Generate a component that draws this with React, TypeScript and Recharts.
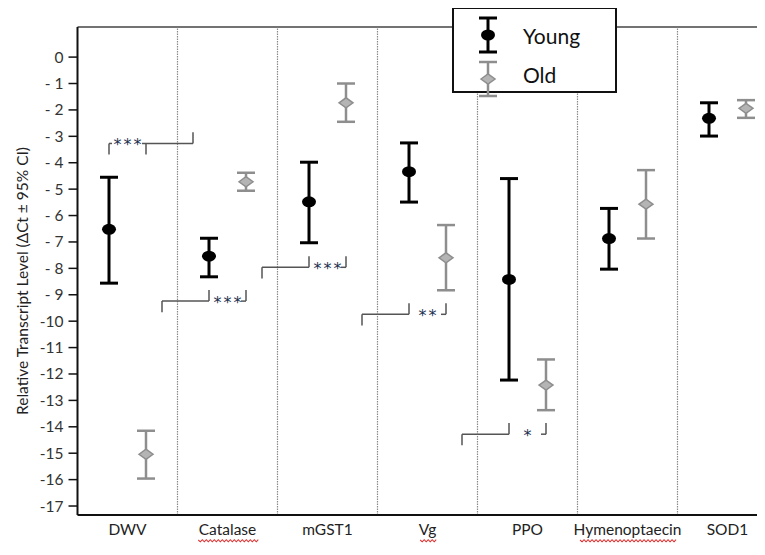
import React from "react";
import {
  ScatterChart,
  Scatter,
  XAxis,
  YAxis,
  ErrorBar,
  ReferenceLine,
  ReferenceDot,
  Legend,
} from "recharts";

const genes = ["DWV", "Catalase", "mGST1", "Vg", "PPO", "Hymenoptaecin", "SOD1"];

// ΔCt means and 95% CI bounds
const youngMean = [-6.52, -7.54, -5.48, -4.34, -8.42, -6.87, -2.32];
const youngHigh = [-4.55, -6.86, -3.98, -3.25, -4.6, -5.73, -1.73];
const youngLow = [-8.56, -8.32, -7.03, -5.49, -12.23, -8.03, -2.99];

const oldMean = [-15.04, -4.72, -1.73, -7.6, -12.42, -5.57, -1.94];
const oldHigh = [-14.15, -4.38, -1.0, -6.36, -11.45, -4.28, -1.63];
const oldLow = [-15.96, -5.06, -2.45, -8.83, -13.37, -6.87, -2.3];

const yTicks = [0, -1, -2, -3, -4, -5, -6, -7, -8, -9, -10, -11, -12, -13, -14, -15, -16, -17];

// significance brackets: gene index, level of the bracket line, stars
const sigGene = [0, 1, 2, 3, 4];
const sigLevel = [-3.27, -9.24, -7.96, -9.74, -14.28];
const sigStars = ["***", "***", "***", "**", "*"];

const underlined = ["Catalase", "Vg", "Hymenoptaecin"];

const Y_MIN = -17.34;
const Y_MAX = 1.14;
const X_MAX = 6.875;
const YOUNG_OFF = 0.315;
const OLD_OFF = 0.685;
const ARM = 0.47;
const TICK = 0.42;
const FONT = "Lato, 'Open Sans', sans-serif";

const youngData = genes.map((g, i) => ({
  x: i + YOUNG_OFF,
  y: youngMean[i],
  err: [youngMean[i] - youngLow[i], youngHigh[i] - youngMean[i]],
}));
const oldData = genes.map((g, i) => ({
  x: i + OLD_OFF,
  y: oldMean[i],
  err: [oldMean[i] - oldLow[i], oldHigh[i] - oldMean[i]],
}));

const fmtY = (v: number) => (v === 0 ? "0" : v > -10 ? "- " + -v : String(v));

const Dot = (p: any) => <ellipse cx={p.cx} cy={p.cy} rx={7} ry={5.5} fill="#000" />;
const Diamond = (p: any) => (
  <path
    d={`M${p.cx - 7},${p.cy} L${p.cx},${p.cy - 5} L${p.cx + 7},${p.cy} L${p.cx},${p.cy + 5} Z`}
    fill="#b4b4b4"
    stroke="#8e8e8e"
    strokeWidth={1.5}
  />
);

function GeneTick(props: any) {
  const { x, y, payload } = props;
  const name = genes[Math.floor(payload.value)];
  const w = name.length * 7.3;
  let squiggle = null;
  if (underlined.includes(name)) {
    let d = `M${x - w / 2},${y + 23}`;
    for (let k = 0, s = x - w / 2; s < x + w / 2; k++, s += 2) {
      d += ` L${s + 2},${y + 23 + (k % 2 === 0 ? 1.8 : -0.3)}`;
    }
    squiggle = <path d={d} fill="none" stroke="#e03030" strokeWidth={1.1} />;
  }
  return (
    <g>
      <text x={x} y={y + 18} textAnchor="middle" fontSize={15.5} fill="#222" fontFamily={FONT}>
        {name}
      </text>
      {squiggle}
    </g>
  );
}

function YTitle(props: any) {
  const vb = props.viewBox;
  const cy = vb.y + vb.height / 2 + 10;
  return (
    <text
      x={14}
      y={cy}
      transform={`rotate(-90, 14, ${cy})`}
      textAnchor="middle"
      dominantBaseline="central"
      fontSize={15.5}
      fill="#222"
      fontFamily={FONT}
    >
      Relative Transcript Level (ΔCt ± 95% CI)
    </text>
  );
}

function LegendBox() {
  return (
    <svg width={166} height={100} style={{ overflow: "visible", display: "block" }}>
      <rect x={1} y={1} width={163} height={84} fill="#fff" stroke="#111" strokeWidth={2} />
      <g stroke="#000" strokeWidth={3}>
        <line x1={36} y1={11} x2={36} y2={45} />
        <line x1={27} y1={11} x2={45} y2={11} />
        <line x1={27} y1={45} x2={45} y2={45} />
      </g>
      <ellipse cx={36} cy={28} rx={7} ry={5.5} fill="#000" />
      <g stroke="#8e8e8e" strokeWidth={2.5}>
        <line x1={36} y1={55} x2={36} y2={89} />
        <line x1={27} y1={55} x2={45} y2={55} />
        <line x1={27} y1={89} x2={45} y2={89} />
      </g>
      <path d="M29,72 L36,67 L43,72 L36,77 Z" fill="#b4b4b4" stroke="#8e8e8e" strokeWidth={1.5} />
      <text x={71} y={28} dominantBaseline="central" fontSize={21} fill="#111" fontFamily={FONT}>
        Young
      </text>
      <text x={71} y={67} dominantBaseline="central" fontSize={21} fill="#111" fontFamily={FONT}>
        Old
      </text>
    </svg>
  );
}

function bracketSegments(k: number) {
  const g = sigGene[k];
  const y = sigLevel[k];
  const yx = g + YOUNG_OFF;
  const ox = g + OLD_OFF;
  if (g === 0) {
    // drawn above the points, opening to the right
    const right = ox + ARM;
    return [
      [[yx, y], [yx, y - TICK]],
      [[yx, y], [yx + 0.03, y]],
      [[ox - 0.04, y], [right, y]],
      [[ox, y], [ox, y - TICK]],
      [[right, y], [right, y + TICK]],
    ];
  }
  const left = yx - ARM;
  return [
    [[left, y], [left, y - TICK]],
    [[left, y], [yx, y]],
    [[yx, y], [yx, y + TICK]],
    [[ox - 0.05, y], [ox, y]],
    [[ox, y], [ox, y + TICK]],
  ];
}

const Stars = (text: string) => (p: any) => (
  <text
    x={p.cx + 1}
    y={p.cy + 7}
    textAnchor="middle"
    fontSize={16}
    letterSpacing={2}
    fill="#1c3350"
    fontFamily="'DejaVu Sans', sans-serif"
  >
    {text}
  </text>
);

export default function App() {
  return (
    <ScatterChart
      width={757}
      height={540}
      margin={{ top: 19, right: 0, bottom: 0, left: 0 }}
      style={{ fontFamily: FONT }}
    >
      <XAxis
        type="number"
        dataKey="x"
        domain={[0, X_MAX]}
        ticks={genes.map((g, i) => i + 0.5)}
        allowDataOverflow
        tickLine={false}
        tickSize={0}
        height={33}
        axisLine={{ stroke: "#111", strokeWidth: 2 }}
        tick={<GeneTick />}
        interval={0}
      />
      <YAxis
        type="number"
        dataKey="y"
        domain={[Y_MIN, Y_MAX]}
        ticks={yTicks}
        allowDataOverflow
        interval={0}
        width={69.5}
        tickSize={9}
        tickMargin={5}
        tickFormatter={fmtY}
        tick={{ fontSize: 15.5, fill: "#333", fontFamily: FONT }}
        tickLine={{ stroke: "#111", strokeWidth: 1.5 }}
        axisLine={{ stroke: "#111", strokeWidth: 2 }}
        label={<YTitle />}
      />
      <ReferenceLine y={Y_MAX} stroke="#444" strokeWidth={1.5} ifOverflow="visible" />
      {[1, 2, 3, 4, 5, 6].map((v) => (
        <ReferenceLine key={v} x={v} stroke="#8a8a8a" strokeWidth={1.2} strokeDasharray="1.5 1" />
      ))}
      {sigGene.map((g, k) =>
        bracketSegments(k).map((s, j) => (
          <ReferenceLine
            key={`b${k}-${j}`}
            segment={[
              { x: s[0][0], y: s[0][1] },
              { x: s[1][0], y: s[1][1] },
            ]}
            stroke="#555"
            strokeWidth={1.5}
            ifOverflow="visible"
          />
        ))
      )}
      {sigGene.map((g, k) => (
        <ReferenceDot
          key={`s${k}`}
          x={g + 0.5}
          y={sigLevel[k]}
          r={0}
          shape={Stars(sigStars[k])}
        />
      ))}
      <Scatter name="Young" data={youngData} shape={Dot} isAnimationActive={false}>
        <ErrorBar dataKey="err" direction="y" width={9} stroke="#000" strokeWidth={3} />
      </Scatter>
      <Scatter name="Old" data={oldData} shape={Diamond} isAnimationActive={false}>
        <ErrorBar dataKey="err" direction="y" width={9} stroke="#8e8e8e" strokeWidth={2.5} />
      </Scatter>
      <Legend
        layout="horizontal"
        verticalAlign="middle"
        align="center"
        wrapperStyle={{ left: 444, top: -1, width: 166, height: 100 }}
        content={() => <LegendBox />}
      />
    </ScatterChart>
  );
}
